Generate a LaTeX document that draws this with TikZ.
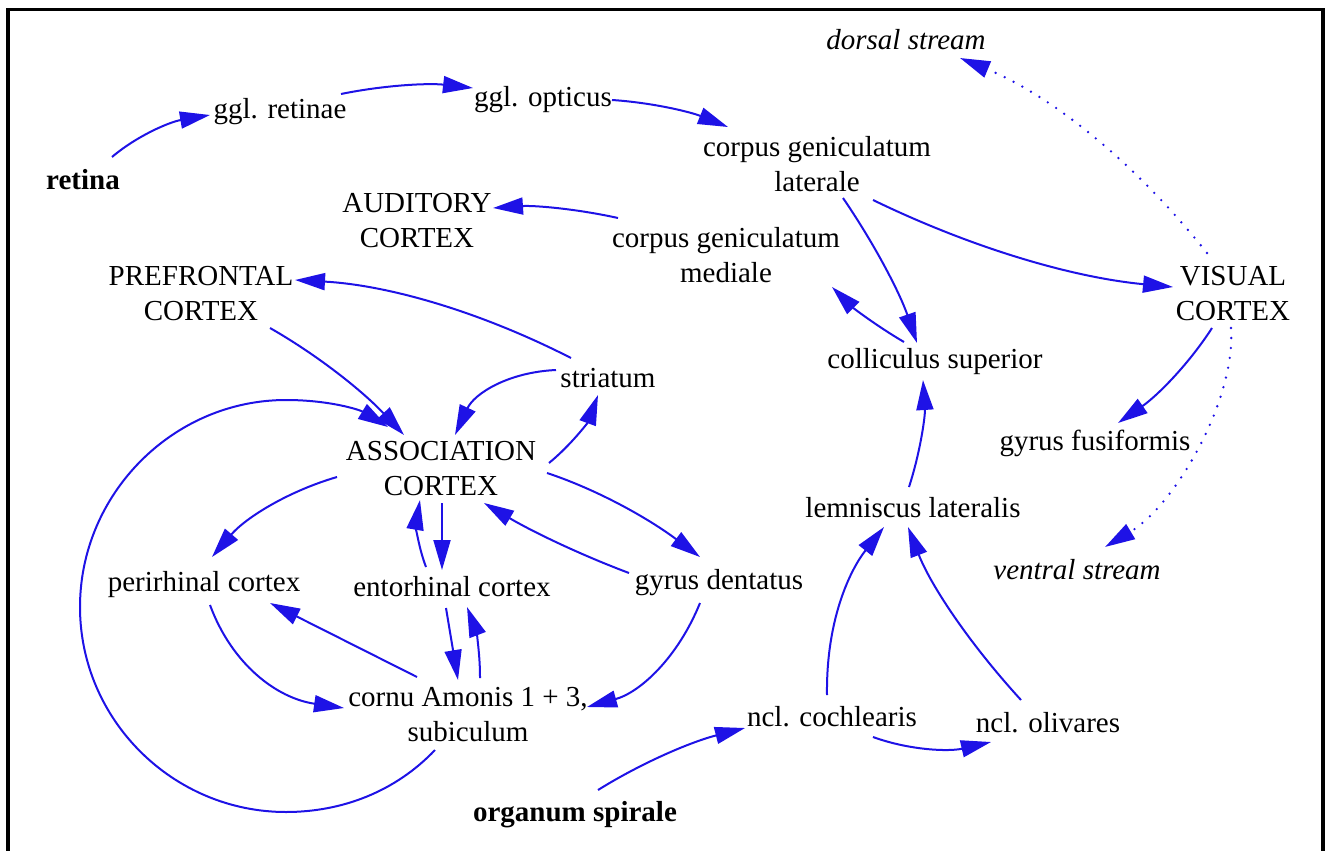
\documentclass[tikz,border=0pt]{standalone}
\usepackage{fontspec}
\setmainfont{Liberation Serif}
\usetikzlibrary{arrows.meta,calc}
\definecolor{arrblue}{RGB}{30,18,230}
\tikzset{
  lbl/.style={font=\fontsize{29}{35}\selectfont, inner sep=0pt, align=center},
  arr/.style={draw=arrblue, line width=2pt, -{Triangle[length=30pt,width=17pt]}, fill=none},
  dotarr/.style={arr, dash pattern=on 0pt off 10pt, line cap=round, line width=2.6pt}
}
\begin{document}
\begin{tikzpicture}[x=1pt,y=-1pt]
\useasboundingbox (0,0) rectangle (1328,851);
\draw[line width=3.5pt] (8,851) -- (8,9.5) -- (1323,9.5) -- (1323,851);

% nodes
\node[lbl] (retina)   at (83,180)  {\bfseries retina};
\node[lbl] (gglret)   at (280,112) {ggl. retinae};
\node[lbl] (gglopt)   at (543,100) {ggl. opticus};
\node[lbl] (cgl)      at (817,164) {corpus geniculatum\\laterale};
\node[lbl] (dorsal)   at (906,40)  {\itshape dorsal stream};
\node[lbl] (aud)      at (417,221) {AUDITORY\\CORTEX};
\node[lbl] (cgm)      at (726,255) {corpus geniculatum\\mediale};
\node[lbl] (pref)     at (201,294) {PREFRONTAL\\CORTEX};
\node[lbl] (visual)   at (1233,294) {VISUAL\\CORTEX};
\node[lbl] (coll)     at (935,362) {colliculus superior};
\node[lbl] (striatum) at (608,378) {striatum};
\node[lbl] (gyrfus)   at (1095,443) {gyrus fusiformis};
\node[lbl] (assoc)    at (441,469) {ASSOCIATION\\CORTEX};
\node[lbl] (lemn)     at (913,508) {lemniscus lateralis};
\node[lbl] (ventral)  at (1077,570) {\itshape ventral stream};
\node[lbl] (peri)     at (204,585) {perirhinal cortex};
\node[lbl] (ento)     at (452,587) {entorhinal cortex};
\node[lbl] (gyrden)   at (719,583) {gyrus dentatus};
\node[lbl] (cornu)    at (468,715) {cornu Amonis 1 + 3,\\subiculum};
\node[lbl] (ncoch)    at (832,717) {ncl. cochlearis};
\node[lbl] (nolive)   at (1048,723) {ncl. olivares};
\node[lbl] (organ)    at (575,815) {\bfseries organum spirale};

% connectors
\draw[arr] ($(retina)+(29,-23)$) .. controls (136.7,136) and (169.3,122) .. ($(gglret)+(-70,3)$);
\draw[arr] ($(gglret)+(61,-18)$) .. controls (385,85) and (429,83) .. ($(gglopt)+(-70,-12)$);
\draw[arr] ($(gglopt)+(69,0)$) .. controls (650.7,102.5) and (689.3,111.5) .. ($(cgl)+(-89,-37)$);
\draw[arr] ($(cgm)+(-108,-37)$) .. controls (575.8,208.7) and (534.2,205.3) .. ($(aud)+(76,-13)$);
\draw[arr] ($(cgl)+(56,36)$) .. controls (973,248.5) and (1073,277.5) .. ($(visual)+(-60,-7)$);
\draw[arr] ($(cgl)+(26,34)$) .. controls (875.7,245.8) and (900.3,294.2) .. ($(coll)+(-18,-19)$);
\draw[arr] ($(coll)+(-31,-20)$) .. controls (877,326.2) and (853,307.8) .. ($(cgm)+(106,32)$);
\draw[arr] ($(lemn)+(-4,-21)$) .. controls (920.7,450.8) and (925.3,415.2) .. ($(coll)+(-12,18)$);
\draw[arr] ($(visual)+(-21,34)$) .. controls (1188.7,364.2) and (1157.3,395.8) .. ($(gyrfus)+(23,-20)$);
\draw[dotarr] ($(visual)+(-26,-41)$) .. controls (1133.2,160.5) and (1050.8,95.5) .. ($(dorsal)+(54,18)$);
\draw[dotarr] ($(visual)+(-2,34)$) .. controls (1236,400) and (1175,505) .. ($(ventral)+(28,-23)$);
\draw[arr] ($(ncoch)+(-5,-22)$) .. controls (826,620) and (850,570) .. ($(lemn)+(-29,19)$);
\draw[arr] ($(nolive)+(-27,-23)$) .. controls (967.8,641.8) and (930.2,584.2) .. ($(lemn)+(-5,19)$);
\draw[arr] ($(ncoch)+(41,20)$) .. controls (909.3,750.2) and (948.7,751.8) .. ($(nolive)+(-57,19)$);
\draw[arr] ($(organ)+(23,-25)$) .. controls (642.5,762.3) and (691.5,741.7) .. ($(ncoch)+(-87,11)$);
\draw[arr] ($(striatum)+(-37,-20)$) .. controls (479,311) and (387,285) .. ($(pref)+(94,-14)$);
\draw[arr] ($(pref)+(69,34)$) .. controls (317.7,355.2) and (362.3,390.8) .. ($(assoc)+(-37,-34)$);
\draw[arr] ($(cornu)+(-33,35)$) .. controls (396,791) and (343,812) .. (286,812)
   .. controls (173,812) and (80,720) .. (80,607)
   .. controls (80,494) and (173,400) .. (286,400)
   .. controls (330,400) and (360,410) .. ($(assoc)+(-53,-42)$);
\draw[arr] ($(striatum)+(-52,-8)$) .. controls (507.8,372.2) and (474.2,393.8) .. ($(assoc)+(14,-34)$);
\draw[arr] ($(assoc)+(108,-6)$) .. controls (571.8,444.3) and (588.2,421.7) .. ($(striatum)+(-10,17)$);
\draw[arr] ($(assoc)+(-104,8)$) .. controls (286.8,491.7) and (245.2,518.3) .. ($(peri)+(8,-28)$);
\draw[arr] ($(assoc)+(1,34)$) -- ($(ento)+(-10,-17)$);
\draw[arr] ($(ento)+(-26,-20)$) .. controls (418,546.2) and (416,523.8) .. ($(assoc)+(-21,31)$);
\draw[arr] ($(gyrden)+(-90,-10)$) .. controls (580.2,554.7) and (531.8,531.3) .. ($(assoc)+(43,34)$);
\draw[arr] ($(assoc)+(106,4)$) .. controls (595.5,489) and (646.5,517) .. ($(gyrden)+(-19,-26)$);
\draw[arr] ($(peri)+(6,20)$) .. controls (231.7,663.8) and (276.3,698.2) .. ($(cornu)+(-124,-7)$);
\draw[arr] ($(cornu)+(-51,-38)$) -- ($(peri)+(66,18)$);
\draw[arr] ($(ento)+(-6,21)$) -- ($(cornu)+(-10,-35)$);
\draw[arr] ($(cornu)+(12,-37)$) .. controls (480.2,653.8) and (475.8,630.2) .. ($(ento)+(15,20)$);
\draw[arr] ($(gyrden)+(-19,20)$) .. controls (677.8,657.7) and (640.2,692.3) .. ($(cornu)+(119,-8)$);
\end{tikzpicture}
\end{document}
